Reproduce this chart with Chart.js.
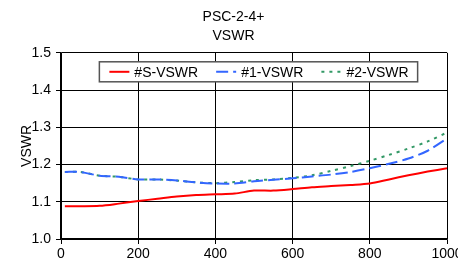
<!DOCTYPE html>
<html>
<head>
<meta charset="utf-8">
<script src="https://cdn.jsdelivr.net/npm/chart.js@4"></script>
<style>
html,body{margin:0;padding:0;background:#fff;}
#caixa{width:458px;height:267px;position:relative;}
</style>
</head>
<body>
<div id="caixa"><canvas id="graficoVswr"></canvas></div>
<script>

const frequencias=[10,50,100,150,200,250,300,350,400,450,500,550,600,650,700,750,800,850,900,950,1000];

const vswrS=[1.088,1.088,1.089,1.095,1.102,1.108,1.114,1.118,1.120,1.122,1.130,1.130,1.134,1.139,1.142,1.145,1.149,1.160,1.171,1.181,1.190];

const vswr1=[1.180,1.180,1.170,1.167,1.160,1.160,1.157,1.152,1.149,1.149,1.155,1.159,1.163,1.168,1.173,1.180,1.190,1.202,1.216,1.237,1.270];

const vswr2=[1.180,1.180,1.170,1.167,1.160,1.160,1.157,1.152,1.150,1.153,1.158,1.160,1.164,1.171,1.183,1.196,1.210,1.226,1.243,1.262,1.286];

const nomesSeries=["#S-VSWR","#1-VSWR","#2-VSWR"];

const ticksX=[0,200,400,600,800,1000];

const ticksY=[1.0,1.1,1.2,1.3,1.4,1.5];

const tituloLinhas=["PSC-2-4+","VSWR"];

///////////////////////////////////////////////////////////////

const fonte="'Liberation Sans', Arial, sans-serif";

Chart.defaults.font.family=fonte;
Chart.defaults.font.size=14;
Chart.defaults.color="#000";

function pontos(valores){
    return frequencias.map((f,i)=>({x:f,y:valores[i]}));
}

// legenda em linha dentro da area do grafico, com caixa branca
const legendaInterna={

    id:"legendaInterna",

    afterDraw(chart){

        const ctx=chart.ctx;
        const area=chart.chartArea;
        const series=chart.data.datasets;

        const larguraLinha=20;
        const espaco=5;
        const entre=18;

        ctx.save();
        ctx.font="14px "+fonte;

        const larguras=series.map(ds=>larguraLinha+espaco+ctx.measureText(ds.label).width);
        const total=larguras.reduce((a,b)=>a+b,0)+entre*(series.length-1);

        const centro=(area.left+area.right)/2+5;
        const esq=centro-total/2-10;
        const larg=total+19;
        const topo=area.top+9;
        const alt=20;

        ctx.fillStyle="#fff";
        ctx.fillRect(esq,topo,larg,alt);
        ctx.strokeStyle="#555";
        ctx.lineWidth=1.5;
        ctx.strokeRect(esq,topo,larg,alt);

        let x=esq+10;
        const y=topo+alt/2;

        series.forEach((ds,i)=>{

            ctx.setLineDash(ds.borderDash||[]);
            ctx.strokeStyle=ds.borderColor;
            ctx.lineWidth=ds.borderWidth;
            ctx.beginPath();
            ctx.moveTo(x,y);
            ctx.lineTo(x+larguraLinha,y);
            ctx.stroke();
            ctx.setLineDash([]);

            ctx.fillStyle="#000";
            ctx.textBaseline="middle";
            ctx.textAlign="left";
            ctx.fillText(ds.label,x+larguraLinha+espaco,y+1);

            x+=larguras[i]+entre;

        });

        ctx.restore();

    }

};

///////////////////////////////////////////////////////////////

const ctx=document
    .getElementById("graficoVswr")
    .getContext("2d");

new Chart(ctx,{

    type:"line",

    data:{

        datasets:[
            {
                label:nomesSeries[0],
                data:pontos(vswrS),
                borderColor:"#ff0000",
                borderWidth:2
            },
            {
                label:nomesSeries[1],
                data:pontos(vswr1),
                borderColor:"#3366ff",
                borderWidth:2,
                borderDash:[12,5]
            },
            {
                label:nomesSeries[2],
                data:pontos(vswr2),
                borderColor:"#339966",
                borderWidth:2,
                borderDash:[3,5]
            }
        ]

    },

    options:{

        responsive:true,

        maintainAspectRatio:false,

        animation:false,

        layout:{
            padding:{left:20,right:11,top:0,bottom:0}
        },

        elements:{
            point:{radius:0},
            line:{tension:0.3,fill:false}
        },

        plugins:{

            title:{
                display:true,
                text:tituloLinhas,
                color:"#000",
                font:{size:14,weight:"normal",lineHeight:1.35},
                padding:{top:8,bottom:7}
            },

            legend:{
                display:false
            },

            tooltip:{enabled:false}

        },

        scales:{

            x:{
                type:"linear",
                min:ticksX[0],
                max:ticksX[ticksX.length-1],
                afterBuildTicks:s=>{s.ticks=ticksX.map(v=>({value:v}));},
                afterFit:s=>{s.height=28;s.paddingRight=0;},
                ticks:{autoSkip:false,maxRotation:0,padding:2,color:"#000",callback:v=>String(v)},
                grid:{color:"#000",lineWidth:1,tickLength:5},
                border:{color:"#000",width:1.5}
            },

            y:{
                min:ticksY[0],
                max:ticksY[ticksY.length-1],
                afterBuildTicks:s=>{s.ticks=ticksY.map(v=>({value:v}));},
                afterFit:s=>{s.width=41;},
                ticks:{padding:5,color:"#000",callback:v=>Number(v).toFixed(1)},
                grid:{color:"#000",lineWidth:1,tickLength:5},
                border:{color:"#000",width:1.5},
                title:{display:true,text:"VSWR",color:"#000",font:{size:14},padding:{top:-1,bottom:0}}
            }

        }

    },

    plugins:[legendaInterna]

});

</script>
</body>
</html>
